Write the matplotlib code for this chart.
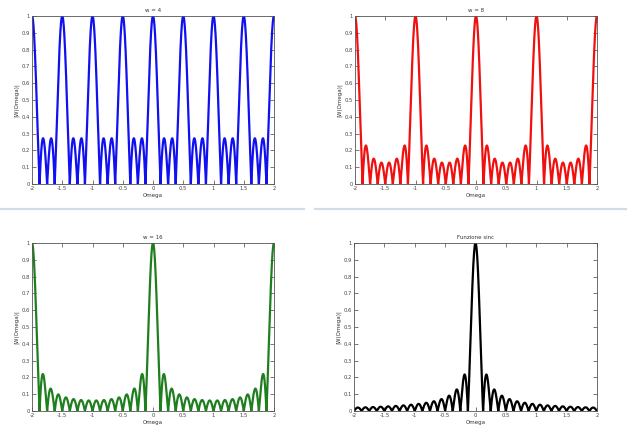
import matplotlib
matplotlib.use("Agg")
import matplotlib.pyplot as plt
import numpy as np

# parametri
titles = ["w = 4", "w = 8", "w = 16", "Funzione sinc"]
window_len = [4, 8, 16, None]          # None -> sinc continua
main_lobe_rate = 8                      # zeri ogni 1/8 in Omega
colors = ["#1010f0", "#f01010", "#1f7f1f", "#000000"]
xticks = [-2, -1.5, -1, -0.5, 0, 0.5, 1, 1.5, 2]
xtick_labels = ["-2", "-1.5", "-1", "-0.5", "0", "0.5", "1", "1.5", "2"]
yticks = [0, 0.1, 0.2, 0.3, 0.4, 0.5, 0.6, 0.7, 0.8, 0.9, 1]
ytick_labels = ["0", "0.1", "0.2", "0.3", "0.4", "0.5", "0.6", "0.7", "0.8", "0.9", "1"]

# posizioni degli assi in pixel (left, top, right, bottom)
W, H = 627, 428
boxes = [(32, 16, 274, 184), (355, 16, 597, 184),
         (32, 243, 274, 411), (354, 243, 597, 411)]

omega = np.linspace(-2, 2, 8001)


def dirichlet(om, n):
    num = np.sin(main_lobe_rate * np.pi * om)
    den = n * np.sin(main_lobe_rate * np.pi * om / n)
    out = np.ones_like(om)
    ok = np.abs(den) > 1e-9
    out[ok] = num[ok] / den[ok]
    return np.abs(out)


fig = plt.figure(figsize=(W / 100, H / 100), dpi=100)

# linee divisorie della slide
for x0, x1 in [(0, 304), (315, 627)]:
    fig.add_artist(plt.Line2D([x0 / W, x1 / W], [1 - 209 / H, 1 - 209 / H],
                              color="#cfdde6", lw=1.6))

for (l, t, r, b), title, n, col in zip(boxes, titles, window_len, colors):
    ax = fig.add_axes([l / W, 1 - b / H, (r - l) / W, (b - t) / H])
    if n is None:
        y = np.abs(np.sinc(main_lobe_rate * omega))
    else:
        y = dirichlet(omega, n)
    ax.plot(omega, y, color=col, lw=1.6)
    ax.set_xlim(-2, 2)
    ax.set_ylim(0, 1)
    ax.set_xticks(xticks)
    ax.set_xticklabels(xtick_labels)
    ax.set_yticks(yticks)
    ax.set_yticklabels(ytick_labels)
    ax.tick_params(direction="in", top=True, right=True, length=3,
                   width=0.5, labelsize=3.8, colors="#444444", pad=1.5)
    for sp in ax.spines.values():
        sp.set_linewidth(0.6)
        sp.set_color("#555555")
    ax.set_title(title, fontsize=4, color="#333333", pad=3)
    ax.set_xlabel("Omega", fontsize=4, color="#333333", labelpad=1.5)
    ax.set_ylabel("|W(Omega)|", fontsize=4, color="#333333", labelpad=2)

fig.savefig("out.png", dpi=100)
plt.close(fig)
